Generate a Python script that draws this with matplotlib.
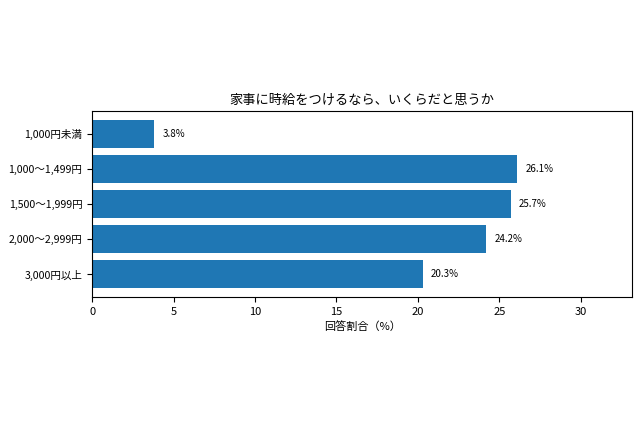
import matplotlib
matplotlib.use("Agg")
from matplotlib import pyplot as plt

plt.rcParams['font.family'] = ['Noto Sans CJK JP', 'DejaVu Sans']

categories = ["1,000円未満", "1,000〜1,499円", "1,500〜1,999円", "2,000〜2,999円", "3,000円以上"]
values = [3.8, 26.1, 25.7, 24.2, 20.3]
title = "家事に時給をつけるなら、いくらだと思うか"
xlabel = "回答割合（%）"

fig = plt.figure(figsize=(6.4, 4.26), dpi=100)
ax = fig.add_axes([0.144, 0.303, 0.8435, 0.436])

ax.barh(categories, values, color="#1f77b4", height=0.8)
ax.invert_yaxis()
for i, v in enumerate(values):
    ax.text(v + 0.5, i, f"{v}%", va="center", fontsize=7)

ax.set_xlim(0, max(values) * 1.27)
ax.set_title(title, fontsize=9.5, pad=5)
ax.set_xlabel(xlabel, fontsize=8, labelpad=3)
ax.tick_params(axis="y", labelsize=7.6)
ax.tick_params(axis="x", labelsize=8)

plt.savefig("out.png", dpi=100)
plt.close()
